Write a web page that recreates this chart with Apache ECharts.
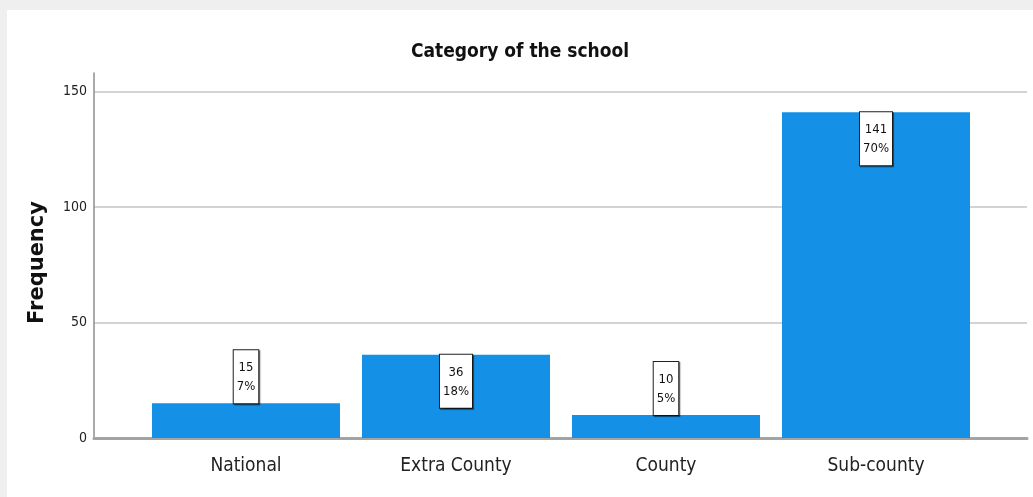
<!DOCTYPE html>
<html>
<head>
<meta charset="utf-8">
<script src="https://cdn.jsdelivr.net/npm/echarts@6/dist/echarts.min.js"></script>
<style>
    html, body {
        margin: 0;
        padding: 0;
        background: #efefef;
    }
    #chart {
        position: absolute;
        left: 7px;
        top: 10px;
        width: 1026px;
        height: 487px;
        background: #fff;
    }
</style>
</head>
<body>
<div id="chart"></div>
<script>
const categories = ["National", "Extra County", "County", "Sub-county"]
const frequency = [15, 36, 10, 141]
const yTicks = { min: 0, max: 158, interval: 50 }

const total = frequency.reduce((a, b) => a + b, 0)
const narrow = "'Liberation Sans Narrow', 'DejaVu Sans Condensed', 'Arial Narrow', sans-serif"

let myChart = echarts.init(document.getElementById("chart"))
myChart.setOption({
    animation: false,
    title: {
        text: "Category of the school",
        left: "center",
        top: 28,
        textStyle: {
            fontFamily: narrow,
            fontWeight: "bold",
            fontSize: 19,
            color: "#111"
        }
    },
    grid: [
        // axes frame, spans the full width
        { left: 87, width: 933, top: 63, bottom: 59 },
        // bars, SPSS leaves a gap at both ends
        { left: 134, width: 840, top: 63, bottom: 59 }
    ],
    xAxis: [{
        gridIndex: 0,
        type: "category",
        data: categories,
        axisLine: { lineStyle: { color: "#a3a3a3", width: 3 } },
        axisTick: { show: false },
        axisLabel: { show: false }
    }, {
        gridIndex: 1,
        type: "category",
        data: categories,
        axisLine: { show: false },
        axisTick: { show: false },
        axisLabel: {
            margin: 19,
            fontFamily: narrow,
            fontSize: 19,
            color: "#222"
        }
    }],
    yAxis: [{
        gridIndex: 0,
        type: "value",
        min: yTicks.min,
        max: yTicks.max,
        interval: yTicks.interval,
        name: "Frequency",
        nameLocation: "middle",
        nameRotate: 90,
        nameGap: 46,
        nameTextStyle: {
            fontFamily: "'DejaVu Sans', sans-serif",
            fontWeight: "bold",
            fontSize: 21,
            color: "#111",
            padding: [0, 14, 0, 0]
        },
        axisLine: { show: true, lineStyle: { color: "#8e8e8e", width: 1.5 } },
        axisTick: { show: false },
        axisLabel: {
            showMaxLabel: false,
            margin: 7,
            fontFamily: narrow,
            fontSize: 14,
            color: "#222"
        },
        splitLine: {
            showMaxLine: false,
            lineStyle: { color: "#c4c4c4", width: 1.5 }
        }
    }, {
        gridIndex: 1,
        type: "value",
        min: yTicks.min,
        max: yTicks.max,
        show: false
    }],
    series: [{
        type: "bar",
        xAxisIndex: 1,
        yAxisIndex: 1,
        barWidth: 188,
        itemStyle: { color: "#1491e6" },
        // the box sits inside the bar only when it fits
        data: frequency.map(v => ({
            value: v,
            label: { position: v > 30 ? "insideTop" : "top" }
        })),
        label: {
            show: true,
            distance: 0,
            formatter: p => p.value + "\n" + Math.round(p.value / total * 100) + "%",
            fontFamily: narrow,
            fontSize: 13,
            lineHeight: 19,
            color: "#111",
            backgroundColor: "#fff",
            borderColor: "#222",
            borderWidth: 1,
            padding: [8, 3, 7, 3],
            shadowColor: "rgba(0,0,0,0.5)",
            shadowOffsetX: 1,
            shadowOffsetY: 1,
            shadowBlur: 1
        }
    }]
})
</script>
</body>
</html>
